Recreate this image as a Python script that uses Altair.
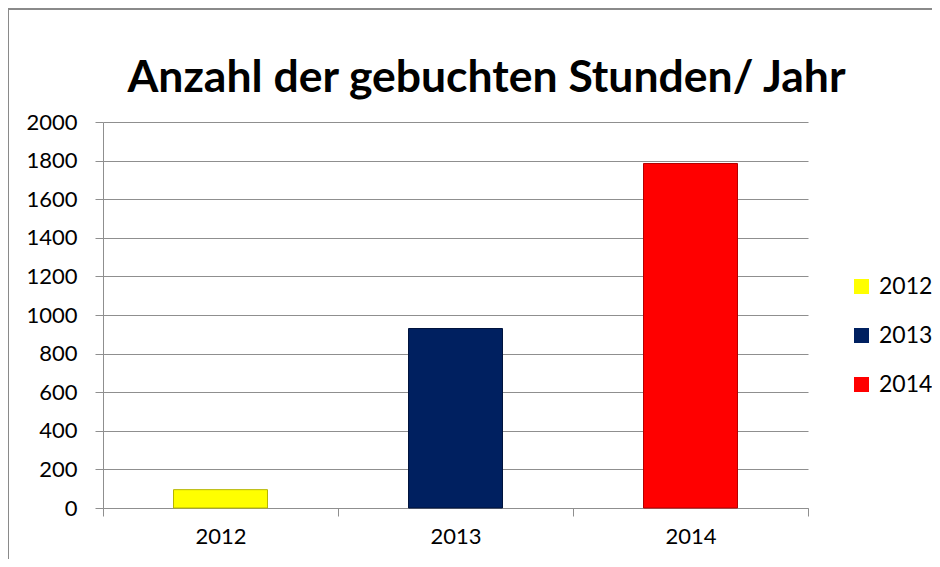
import altair as alt
import pandas as pd

# ---- data ----
years = ["2012", "2013", "2014"]
hours = [95, 930, 1785]
bar_colors = ["#FFFF00", "#002060", "#FF0000"]
bar_strokes = ["#B5B500", "#00133D", "#B30000"]
y_ticks = [0, 200, 400, 600, 800, 1000, 1200, 1400, 1600, 1800, 2000]
title_text = "Anzahl der gebuchten Stunden/ Jahr"

df = pd.DataFrame({"Jahr": years, "Stunden": hours})

W, H = 705, 386
FONT = "Lato"
GRID = "#8f8f8f"

bars = alt.Chart(df).mark_bar(width=alt.RelativeBandSize(0.4), strokeWidth=1).encode(
    x=alt.X(
        "Jahr:N",
        sort=years,
        scale=alt.Scale(paddingInner=0, paddingOuter=0),
        axis=alt.Axis(
            title=None, labelAngle=0, tickBand="extent", labelFontSize=22,
            labelFont=FONT, labelColor="black", labelPadding=10, tickSize=8,
            domainColor=GRID, tickColor=GRID, grid=False,
        ),
    ),
    y=alt.Y(
        "Stunden:Q",
        scale=alt.Scale(domain=[0, 2000], nice=False),
        axis=alt.Axis(
            values=y_ticks, format="d", title=None, labelFontSize=22, labelFont=FONT,
            labelColor="black", labelPadding=18, tickSize=8, domainColor=GRID,
            tickColor=GRID, grid=True, gridColor=GRID, gridOpacity=1,
        ),
    ),
    color=alt.Color(
        "Jahr:N",
        scale=alt.Scale(domain=years, range=bar_colors),
        legend=alt.Legend(
            title=None, orient="none", legendX=747, legendY=153,
            symbolType="square", symbolSize=225, symbolStrokeWidth=0,
            labelFontSize=23, labelFont=FONT, labelColor="black",
            rowPadding=25, padding=0, labelOffset=6,
        ),
    ),
    stroke=alt.Stroke(
        "Jahr:N", scale=alt.Scale(domain=years, range=bar_strokes), legend=None
    ),
)

frame_df = pd.DataFrame({"k": [0]})
border_left = alt.Chart(frame_df).mark_rule(color="#8a8a8a", strokeWidth=2).encode(
    x=alt.value(-95), y=alt.value(-113), y2=alt.value(H + 60)
)
border_top = alt.Chart(frame_df).mark_rule(color="#8a8a8a", strokeWidth=2).encode(
    x=alt.value(-95), x2=alt.value(W + 130), y=alt.value(-113)
)
title_mark = alt.Chart(frame_df).mark_text(
    font=FONT, fontSize=44.5, fontWeight="bold", color="black",
    align="center", baseline="alphabetic",
).encode(
    text=alt.value(title_text), x=alt.value(W / 2 + 31), y=alt.value(-30)
)

chart = alt.layer(bars, border_left, border_top, title_mark).properties(
    width=W,
    height=H,
    autosize=alt.AutoSizeParams(type="none"),
    padding={"left": 95, "top": 114, "right": 124, "bottom": 51},
).configure_view(stroke=None)

chart.save("out.html", embed_options={"renderer": "svg", "actions": False})
